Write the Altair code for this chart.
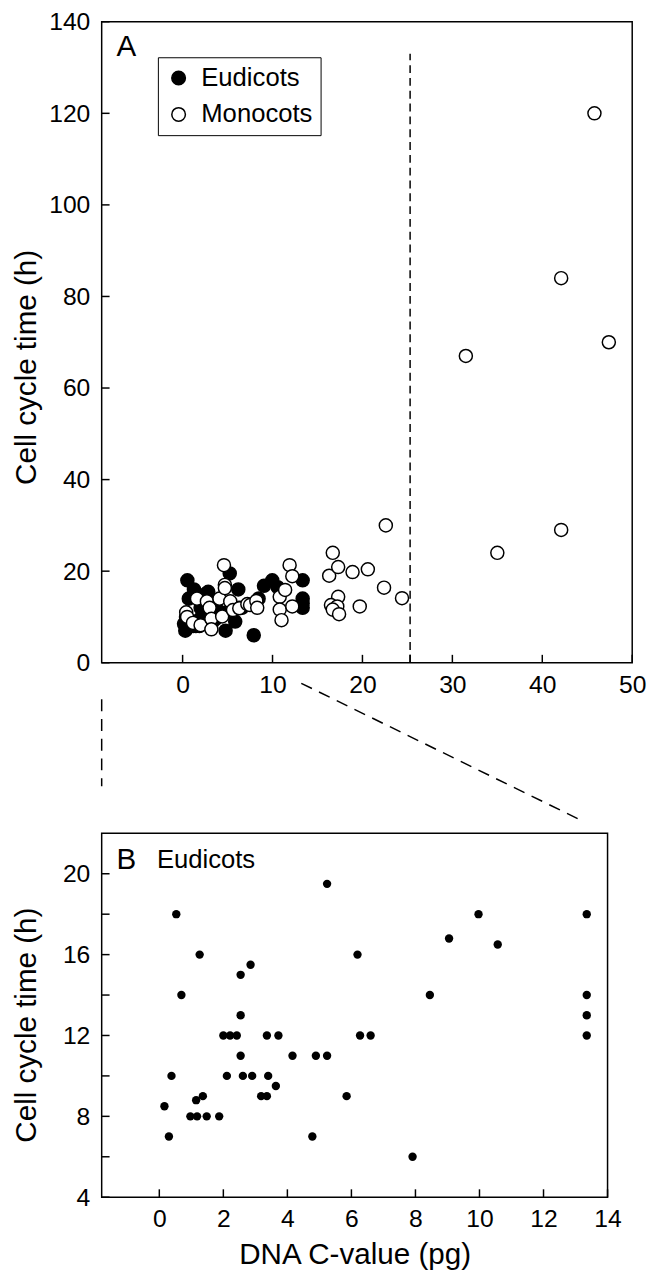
import altair as alt
import pandas as pd

# ---------------- data ----------------
eu_x = [0.16, 0.30, 0.38, 0.53, 0.69, 0.97, 1.15, 1.18, 1.26, 1.36, 1.48, 1.87, 2.00, 2.11, 2.21,
        2.42, 2.54, 2.54, 2.54, 2.61, 2.85, 2.90, 3.18, 3.36, 3.36, 3.40, 3.64, 3.72, 4.16, 4.78,
        4.89, 5.24, 5.24, 5.85, 6.19, 6.27, 6.60, 7.91, 8.45, 9.05, 9.97, 10.57, 13.35, 13.35, 13.35, 13.35]
eu_y = [8.5, 7.0, 10.0, 18.0, 14.0, 8.0, 8.8, 8.0, 16.0, 9.0, 8.0, 8.0, 12.0, 10.0, 12.0,
        12.0, 15.0, 13.0, 11.0, 10.0, 15.5, 10.0, 9.0, 9.0, 12.0, 10.0, 9.5, 12.0, 11.0, 7.0,
        11.0, 11.0, 19.5, 9.0, 16.0, 12.0, 12.0, 6.0, 14.0, 16.8, 18.0, 16.5, 18.0, 14.0, 13.0, 12.0]

mono_x = [0.4, 0.5, 1.15, 1.6, 2.0, 2.7, 3.0, 3.2, 3.2, 4.1, 4.4, 4.6, 4.7, 4.7, 5.3, 5.6, 6.3, 7.2,
          7.5, 8.2, 8.3, 10.8, 10.8, 11.0, 11.4, 11.9, 12.2, 12.2, 16.3, 16.7, 17.3, 18.9, 20.6, 22.4,
          24.4, 19.7, 17.3, 16.5, 17.2, 16.7, 17.4, 22.6, 31.5, 35.0, 42.1, 42.1, 45.8, 47.4]
mono_y = [11.0, 10.0, 8.7, 14.0, 8.2, 13.4, 12.0, 9.6, 7.3, 14.0, 10.1, 21.3, 17.0, 16.3, 13.4, 11.5, 11.9, 12.8,
          12.6, 13.5, 12.0, 14.4, 11.6, 9.3, 15.9, 21.3, 18.9, 12.3, 19.0, 24.0, 20.9, 19.8, 20.4, 16.4,
          14.1, 12.3, 14.4, 12.6, 12.3, 11.6, 10.6, 30.0, 67.0, 24.0, 84.0, 29.0, 120.0, 70.0]

groups = ["Eudicots", "Monocots"]

# ticks / labels
a_x_labels = [0, 10, 20, 30, 40, 50]
a_x_ticks = [0, 10, 20, 25.3, 30, 40, 50]
a_y_labels = [0, 20, 40, 60, 80, 100, 120, 140]
b_x_labels = [0, 2, 4, 6, 8, 10, 12, 14]
b_y_labels = [4, 8, 12, 16, 20]
b_y_ticks = [4, 6, 8, 10, 12, 14, 16, 18, 20]

# genome-size threshold line (panel A) and zoom connectors (in panel A data units)
cut_x = [25.3]
cut_y1 = [0]
cut_y2 = [133]
conn_x1 = [-9.0, 13.2]
conn_y1 = [-8.0, -4.5]
conn_x2 = [-9.0, 44.4]
conn_y2 = [-27.0, -34.5]

FONT = "Liberation Sans"

# ---------------- panel A ----------------
A_W, A_H = 538, 650
dfA = pd.DataFrame({
    "x": eu_x + mono_x,
    "y": eu_y + mono_y,
    "group": [groups[0]] * len(eu_x) + [groups[1]] * len(mono_x),
})
xA = alt.Scale(domain=[-9, 50], nice=False, zero=False)
yA = alt.Scale(domain=[0, 140], nice=False, zero=False)
axA_x = alt.Axis(values=a_x_labels, title=None, labelPadding=10)
axA_y = alt.Axis(values=a_y_labels, title="Cell cycle time (h)", labelPadding=12,
                 titleX=-76, titleY=350, titleBaseline="middle")

pointsA = alt.Chart(dfA).mark_circle(size=175, stroke="black", strokeWidth=1.5, opacity=1).encode(
    x=alt.X("x:Q", scale=xA, axis=axA_x),
    y=alt.Y("y:Q", scale=yA, axis=axA_y),
    fill=alt.Fill("group:N", scale=alt.Scale(domain=groups, range=["black", "white"]),
                  legend=alt.Legend(title=None, orient="none", legendX=57, legendY=36,
                                    labelFont=FONT, labelFontSize=26, labelColor="black",
                                    symbolType="circle", symbolSize=190,
                                    symbolStrokeColor="black", symbolStrokeWidth=1.5,
                                    strokeColor="black", fillColor="white",
                                    padding=8, rowPadding=11, labelOffset=10)),
)

cutA = alt.Chart(pd.DataFrame({"x": cut_x, "y1": cut_y1, "y2": cut_y2})).mark_rule(
    color="black", strokeWidth=1.5, strokeDash=[8, 5]).encode(
    x=alt.X("x:Q", scale=xA, axis=axA_x),
    y=alt.Y("y1:Q", scale=yA, axis=axA_y),
    y2="y2:Q",
)

connA = alt.Chart(pd.DataFrame({"x1": conn_x1, "y1": conn_y1, "x2": conn_x2, "y2": conn_y2})).mark_rule(
    color="black", strokeWidth=1.5, strokeDash=[12, 8]).encode(
    x=alt.X("x1:Q", scale=xA, axis=axA_x),
    y=alt.Y("y1:Q", scale=yA, axis=axA_y),
    x2="x2:Q",
    y2="y2:Q",
)

ytA = alt.Chart(pd.DataFrame({"v": a_y_labels})).mark_rule(color="black", strokeWidth=1.5).encode(
    y=alt.Y("v:Q", scale=yA, axis=axA_y),
    x=alt.value(0), x2=alt.value(8),
)
xtA = alt.Chart(pd.DataFrame({"v": a_x_ticks})).mark_rule(color="black", strokeWidth=1.5).encode(
    x=alt.X("v:Q", scale=xA, axis=axA_x),
    y=alt.value(A_H), y2=alt.value(A_H - 8),
)

labA = alt.Chart(pd.DataFrame({"t": ["A"]})).mark_text(
    font=FONT, fontSize=30, align="left", baseline="middle", color="black").encode(
    text="t:N", x=alt.value(15), y=alt.value(26))

panelA = alt.layer(connA, cutA, ytA, xtA, pointsA, labA).properties(width=A_W, height=A_H)

# ---------------- panel B ----------------
B_W, B_H = 513, 369
dfB = pd.DataFrame({"x": eu_x, "y": eu_y})
xB = alt.Scale(domain=[-1.8, 14], nice=False, zero=False)
yB = alt.Scale(domain=[4, 22], nice=False, zero=False)
axB_x = alt.Axis(values=b_x_labels, title="DNA C-value (pg)", labelPadding=10,
                 titleY=58, titleBaseline="middle")
axB_y = alt.Axis(values=b_y_labels, title="Cell cycle time (h)", labelPadding=12,
                 titleX=-76, titleY=194, titleBaseline="middle")

pointsB = alt.Chart(dfB).mark_circle(size=72, color="black", opacity=1).encode(
    x=alt.X("x:Q", scale=xB, axis=axB_x),
    y=alt.Y("y:Q", scale=yB, axis=axB_y),
)
ytB = alt.Chart(pd.DataFrame({"v": b_y_ticks})).mark_rule(color="black", strokeWidth=1.5).encode(
    y=alt.Y("v:Q", scale=yB, axis=axB_y),
    x=alt.value(0), x2=alt.value(8),
)
xtB = alt.Chart(pd.DataFrame({"v": b_x_labels})).mark_rule(color="black", strokeWidth=1.5).encode(
    x=alt.X("v:Q", scale=xB, axis=axB_x),
    y=alt.value(B_H), y2=alt.value(B_H - 8),
)
labB = alt.Chart(pd.DataFrame({"t": ["B"]})).mark_text(
    font=FONT, fontSize=30, align="left", baseline="middle", color="black").encode(
    text="t:N", x=alt.value(15), y=alt.value(27))
labB2 = alt.Chart(pd.DataFrame({"t": ["Eudicots"]})).mark_text(
    font=FONT, fontSize=26, align="left", baseline="middle", color="black").encode(
    text="t:N", x=alt.value(56), y=alt.value(27))

panelB = alt.layer(ytB, xtB, pointsB, labB, labB2).properties(width=B_W, height=B_H)

chart = alt.vconcat(panelA, panelB, spacing=173, bounds="flush").properties(
    padding={"left": 3, "top": -8, "right": 0, "bottom": 0}
).configure_view(
    stroke="black", strokeWidth=1.5
).configure_axis(
    ticks=False, domain=False, grid=False,
    labelFont=FONT, labelFontSize=25, labelColor="black",
    labelFlush=False, labelOverlap=False,
    titleFont=FONT, titleFontSize=30, titleFontWeight="normal", titleColor="black",
)

chart.save("out.html", embed_options={"renderer": "svg", "actions": False})
